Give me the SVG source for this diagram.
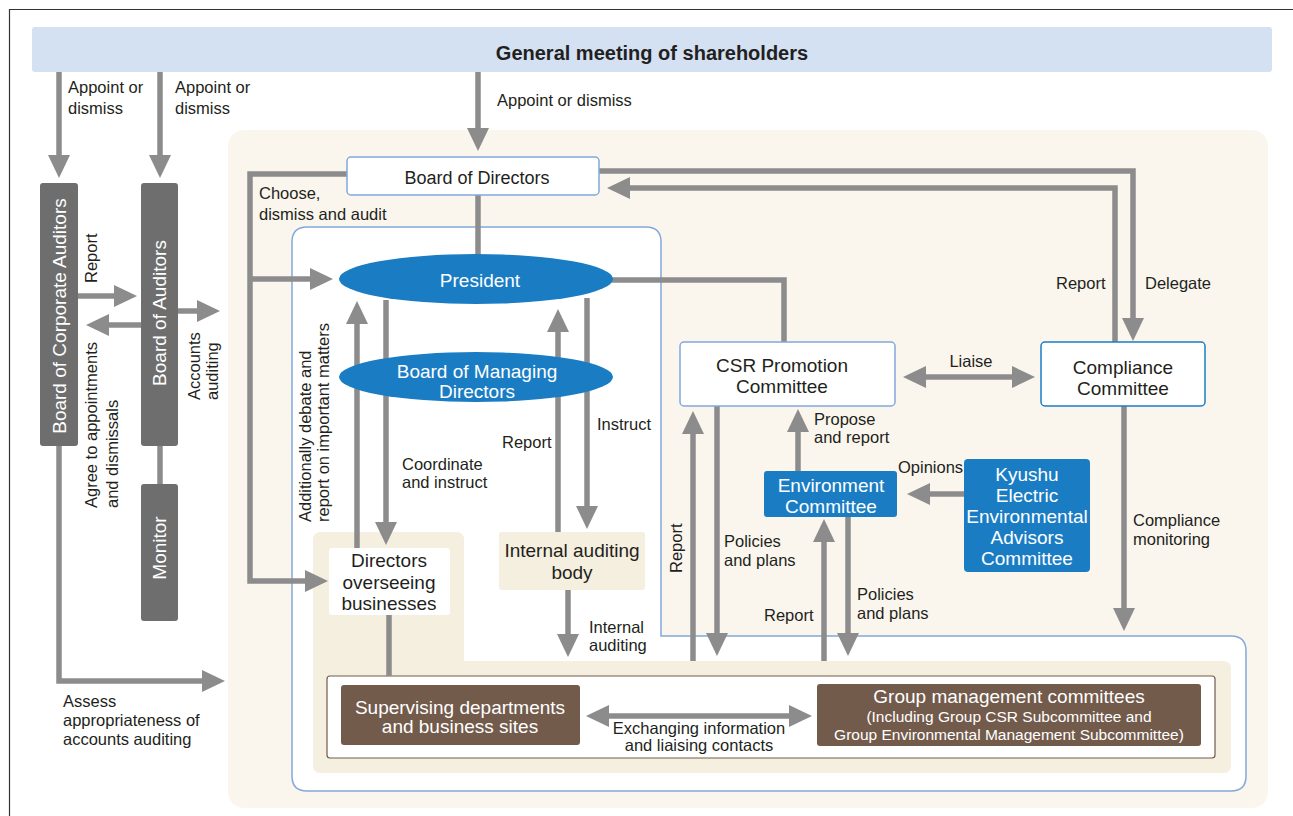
<svg xmlns="http://www.w3.org/2000/svg" width="1293" height="816" viewBox="0 0 1293 816">
<defs>
<style>
.t{font-family:"Liberation Sans",Arial,sans-serif;}
.lbl{font-family:"Liberation Sans",Arial,sans-serif;font-size:16.5px;fill:#231f20;}
.nt{font-family:"Liberation Sans",Arial,sans-serif;font-size:19px;fill:#231f20;text-anchor:middle;}
.wt{font-family:"Liberation Sans",Arial,sans-serif;font-size:19px;fill:#ffffff;text-anchor:middle;}
.sm{font-size:15.5px;}
.bod{font-size:18px;}
.conn{fill:none;stroke:#8c8c8c;stroke-width:5.5;}
.arr{marker-end:url(#ah);}
.dbl{marker-end:url(#ah);marker-start:url(#ahs);}
.wbox{fill:#ffffff;stroke:#82a8dc;stroke-width:1.5;}
.blue{fill:#1a7dc4;}
.dark{fill:#6e6e6e;}
.brown{fill:#735b4c;}
</style>
<marker id="ah" markerUnits="userSpaceOnUse" viewBox="0 0 23 22" markerWidth="23" markerHeight="22" refX="1" refY="11" orient="auto">
<path d="M0,0 L23,11 L0,22 Z" fill="#8c8c8c"/>
</marker>
<marker id="ahs" markerUnits="userSpaceOnUse" viewBox="0 0 23 22" markerWidth="23" markerHeight="22" refX="1" refY="11" orient="auto-start-reverse">
<path d="M0,0 L23,11 L0,22 Z" fill="#8c8c8c"/>
</marker>
</defs>

<rect width="1293" height="816" fill="#ffffff"/>
<path d="M9.5,816 V9.5 H1293" fill="none" stroke="#333333" stroke-width="1.2"/>

<!-- backgrounds -->
<g id="backgrounds">
<rect x="228" y="130" width="1040" height="678" rx="16" fill="#faf6ee"/>
<path d="M292,242 Q292,227 307,227 L646,227 Q661,227 661,242 L661,636 L1231,636 Q1246,636 1246,651 L1246,776 Q1246,791 1231,791 L307,791 Q292,791 292,776 Z" fill="#ffffff" stroke="#82a8dc" stroke-width="1.5"/>
<path d="M313,540 Q313,532 321,532 L456,532 Q464,532 464,540 L464,661 L1223,661 Q1231,661 1231,669 L1231,765 Q1231,773 1223,773 L321,773 Q313,773 313,765 Z" fill="#f5efdf"/>
<rect x="327" y="676" width="888" height="82" rx="3" fill="#ffffff" stroke="#735b4c" stroke-width="1.2"/>
</g>

<!-- connectors -->
<g id="connectors">
<path class="conn arr" d="M59,72 V156"/>
<path class="conn arr" d="M160,72 V156"/>
<path class="conn arr" d="M478,72 V129"/>
<path class="conn arr" d="M59,446 V681 H203"/>
<path class="conn arr" d="M78,296 H115"/>
<path class="conn arr" d="M141,325 H108"/>
<path class="conn arr" d="M178,311 H198"/>
<path class="conn" d="M160,446 V484"/>
<path class="conn arr" d="M347,174 H250 V581 H306"/>
<path class="conn arr" d="M250,279 H311"/>
<path class="conn" d="M478,195 V256"/>
<path class="conn" d="M611,280 H784 V342"/>
<path class="conn arr" d="M357,548 V323"/>
<path class="conn arr" d="M386,300 V523"/>
<path class="conn arr" d="M558,532 V331"/>
<path class="conn arr" d="M587,298 V507"/>
<path class="conn arr" d="M568,590 V635"/>
<path class="conn" d="M389,615 V676"/>
<path class="conn arr" d="M693,661 V433"/>
<path class="conn arr" d="M717,406 V634"/>
<path class="conn arr" d="M798,471 V431"/>
<path class="conn arr" d="M824,661 V541"/>
<path class="conn arr" d="M848,517 V634"/>
<path class="conn arr" d="M964,494 H929"/>
<path class="conn dbl" d="M925,377 H1013"/>
<path class="conn arr" d="M599,171 H1133 V319"/>
<path class="conn arr" d="M1115,342 V188 H629"/>
<path class="conn arr" d="M1124,406 V609"/>
<path class="conn dbl" d="M608,716 H790"/>
</g>

<!-- connector labels -->
<g id="labels">
<text class="lbl" x="68" y="93">Appoint or</text>
<text class="lbl" x="68" y="114">dismiss</text>
<text class="lbl" x="175" y="93">Appoint or</text>
<text class="lbl" x="175" y="114">dismiss</text>
<text class="lbl" x="497" y="106">Appoint or dismiss</text>
<text class="lbl" x="259" y="199">Choose,</text>
<text class="lbl" x="259" y="220">dismiss and audit</text>
<text class="lbl" transform="translate(97,283) rotate(-90)">Report</text>
<text class="lbl" transform="translate(97,508) rotate(-90)">Agree to appointments</text>
<text class="lbl" transform="translate(118,508) rotate(-90)">and dismissals</text>
<text class="lbl" transform="translate(200,400) rotate(-90)">Accounts</text>
<text class="lbl" transform="translate(218,400) rotate(-90)">auditing</text>
<text class="lbl" x="63" y="707">Assess</text>
<text class="lbl" x="63" y="726">appropriateness of</text>
<text class="lbl" x="63" y="745">accounts auditing</text>
<text class="lbl" transform="translate(311,522) rotate(-90)">Additionally debate and</text>
<text class="lbl" transform="translate(329,522) rotate(-90)">report on important matters</text>
<text class="lbl" x="402" y="470">Coordinate</text>
<text class="lbl" x="402" y="488">and instruct</text>
<text class="lbl" x="502" y="448">Report</text>
<text class="lbl" x="597" y="430">Instruct</text>
<text class="lbl" x="589" y="633">Internal</text>
<text class="lbl" x="589" y="651">auditing</text>
<text class="lbl" transform="translate(682,573) rotate(-90)">Report</text>
<text class="lbl" x="724" y="547">Policies</text>
<text class="lbl" x="724" y="566">and plans</text>
<text class="lbl" x="814" y="425">Propose</text>
<text class="lbl" x="814" y="443">and report</text>
<text class="lbl" x="764" y="621">Report</text>
<text class="lbl" x="857" y="600">Policies</text>
<text class="lbl" x="857" y="619">and plans</text>
<text class="lbl" x="898" y="473">Opinions</text>
<text class="lbl" x="971" y="367" text-anchor="middle">Liaise</text>
<text class="lbl" x="1056" y="289">Report</text>
<text class="lbl" x="1145" y="289">Delegate</text>
<text class="lbl" x="1133" y="526">Compliance</text>
<text class="lbl" x="1133" y="545">monitoring</text>
<text class="lbl" x="699" y="734" text-anchor="middle">Exchanging information</text>
<text class="lbl" x="699" y="751" text-anchor="middle">and liaising contacts</text>
</g>

<!-- nodes -->
<g id="general-meeting">
<rect x="32" y="27" width="1240" height="45" rx="3" fill="#d3e1f2"/>
<text class="t" x="652" y="60" font-size="20" font-weight="bold" fill="#231f20" text-anchor="middle">General meeting of shareholders</text>
</g>
<g id="board-of-corporate-auditors">
<rect class="dark" x="40" y="183" width="38" height="263" rx="3"/>
<text class="wt" transform="translate(66,316) rotate(-90)">Board of Corporate Auditors</text>
</g>
<g id="board-of-auditors">
<rect class="dark" x="141" y="183" width="37" height="263" rx="3"/>
<text class="wt" transform="translate(166,313) rotate(-90)">Board of Auditors</text>
</g>
<g id="monitor">
<rect class="dark" x="141" y="484" width="37" height="137" rx="3"/>
<text class="wt" transform="translate(166,548) rotate(-90)">Monitor</text>
</g>
<g id="board-of-directors">
<rect class="wbox" x="347" y="157" width="252" height="38" rx="4"/>
<text class="nt bod" x="477" y="184">Board of Directors</text>
</g>
<g id="president">
<ellipse class="blue" cx="476" cy="279" rx="137" ry="25"/>
<text class="wt" x="480" y="287">President</text>
</g>
<g id="board-of-managing-directors">
<ellipse class="blue" cx="476" cy="377" rx="137" ry="25"/>
<text class="wt" x="477" y="378">Board of Managing</text>
<text class="wt" x="477" y="398">Directors</text>
</g>
<g id="directors-overseeing-businesses">
<rect x="329" y="548" width="121" height="67" rx="3" fill="#ffffff"/>
<text class="nt" x="389" y="567">Directors</text>
<text class="nt" x="389" y="589">overseeing</text>
<text class="nt" x="389" y="610">businesses</text>
</g>
<g id="internal-auditing-body">
<rect x="499" y="532" width="146" height="58" rx="3" fill="#f5efdf"/>
<text class="nt" x="572" y="557">Internal auditing</text>
<text class="nt" x="572" y="579">body</text>
</g>
<g id="csr-promotion-committee">
<rect class="wbox" x="680" y="342" width="215" height="64" rx="4"/>
<text class="nt" x="782" y="372">CSR Promotion</text>
<text class="nt" x="782" y="393">Committee</text>
</g>
<g id="compliance-committee">
<rect x="1041" y="342" width="164" height="64" rx="4" fill="#ffffff" stroke="#1a7dc4" stroke-width="1.5"/>
<text class="nt" x="1123" y="374">Compliance</text>
<text class="nt" x="1123" y="395">Committee</text>
</g>
<g id="environment-committee">
<rect class="blue" x="764" y="471" width="133" height="46" rx="3"/>
<text class="wt" x="831" y="492">Environment</text>
<text class="wt" x="831" y="513">Committee</text>
</g>
<g id="kyushu-electric-environmental-advisors-committee">
<rect class="blue" x="964" y="459" width="126" height="113" rx="4"/>
<text class="wt" x="1027" y="481">Kyushu</text>
<text class="wt" x="1027" y="502">Electric</text>
<text class="wt" x="1027" y="523">Environmental</text>
<text class="wt" x="1027" y="544">Advisors</text>
<text class="wt" x="1027" y="565">Committee</text>
</g>
<g id="supervising-departments">
<rect class="brown" x="341" y="685" width="239" height="60" rx="3"/>
<text class="wt" x="460" y="714">Supervising departments</text>
<text class="wt" x="460" y="733">and business sites</text>
</g>
<g id="group-management-committees">
<rect class="brown" x="817" y="684" width="384" height="62" rx="3"/>
<text class="wt" x="1009" y="703">Group management committees</text>
<text class="wt sm" x="1009" y="722">(Including Group CSR Subcommittee and</text>
<text class="wt sm" x="1009" y="740">Group Environmental Management Subcommittee)</text>
</g>
</svg>
